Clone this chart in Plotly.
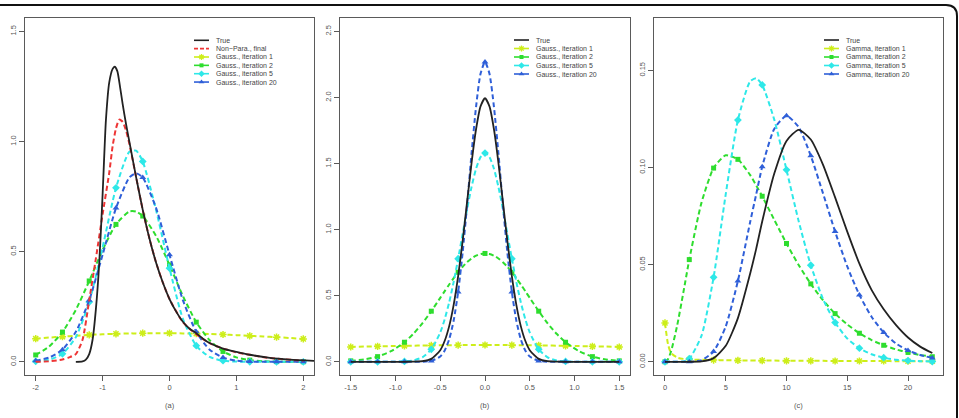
import plotly.graph_objects as go

# ---------------- data ----------------
# panel (a)
xa_true = [-1.4, -1.3, -1.25, -1.2, -1.15, -1.1, -1.05, -1.0, -0.95, -0.9, -0.85, -0.82, -0.78,
           -0.74, -0.7, -0.65, -0.6, -0.5, -0.4, -0.3, -0.2, -0.1, 0.0, 0.1, 0.2, 0.3, 0.4, 0.5,
           0.6, 0.8, 1.0, 1.2, 1.5, 1.8, 2.16]
ya_true = [0.0, 0.002, 0.01, 0.035, 0.1, 0.24, 0.45, 0.76, 1.1, 1.27, 1.33, 1.34, 1.32,
           1.25, 1.17, 1.08, 1.0, 0.84, 0.69, 0.56, 0.45, 0.36, 0.285, 0.228, 0.182, 0.15, 0.13, 0.105,
           0.085, 0.06, 0.045, 0.032, 0.018, 0.01, 0.004]
xa_np = [-2.0, -1.8, -1.6, -1.5, -1.4, -1.3, -1.2, -1.1, -1.0, -0.9, -0.85, -0.8, -0.75, -0.7,
         -0.65, -0.6, -0.5, -0.4, -0.3, -0.2, -0.1, 0.0, 0.2, 0.4, 0.6, 0.8, 1.0, 1.5, 2.0]
ya_np = [0.0, 0.002, 0.01, 0.02, 0.035, 0.1, 0.28, 0.47, 0.67, 0.86, 0.98, 1.06, 1.10, 1.09,
         1.05, 0.99, 0.84, 0.69, 0.56, 0.45, 0.36, 0.285, 0.18, 0.125, 0.085, 0.06, 0.043, 0.017, 0.005]
xa_g = [-2.0, -1.8, -1.6, -1.4, -1.2, -1.0, -0.8, -0.6, -0.5, -0.4, -0.2, 0.0, 0.2, 0.4, 0.6,
        0.8, 1.0, 1.2, 1.4, 1.6, 1.8, 2.0]
ya_it1 = [0.105, 0.11, 0.114, 0.118, 0.122, 0.125, 0.127, 0.129, 0.129, 0.13, 0.13, 0.13, 0.129,
          0.128, 0.126, 0.124, 0.121, 0.118, 0.115, 0.112, 0.108, 0.104]
ya_it2 = [0.031, 0.069, 0.135, 0.236, 0.367, 0.508, 0.624, 0.683, 0.682, 0.662, 0.571, 0.44,
          0.299, 0.18, 0.098, 0.047, 0.020, 0.0076, 0.0025, 0.0007, 0.0002, 0.0001]
ya_it5 = [0.002, 0.0094, 0.036, 0.112, 0.271, 0.52, 0.79, 0.954, 0.959, 0.91, 0.688, 0.425,
          0.195, 0.073, 0.022, 0.005, 0.001, 0.0002, 0.0, 0.0, 0.0, 0.0]
ya_it20 = [0.005, 0.019, 0.055, 0.136, 0.28, 0.486, 0.698, 0.837, 0.856, 0.837, 0.698, 0.486,
           0.28, 0.136, 0.055, 0.019, 0.005, 0.001, 0.0002, 0.0, 0.0, 0.0]
xa_marks = [-2.0, -1.6, -1.2, -0.8, -0.4, 0.0, 0.4, 0.8, 1.2, 1.6, 2.0]

# panel (b)
xb = [-1.5, -1.35, -1.2, -1.05, -0.9, -0.8, -0.7, -0.6, -0.5, -0.45, -0.4, -0.35, -0.3, -0.25,
      -0.2, -0.15, -0.1, -0.05, 0.0, 0.05, 0.1, 0.15, 0.2, 0.25, 0.3, 0.35, 0.4, 0.45, 0.5, 0.6,
      0.7, 0.8, 0.9, 1.05, 1.2, 1.35, 1.5]
yb_true = [0.0, 0.0, 0.0, 0.0, 0.0001, 0.0007, 0.0044, 0.022, 0.088, 0.159, 0.27, 0.431, 0.648,
           0.913, 1.21, 1.506, 1.76, 1.933, 1.995, 1.933, 1.76, 1.506, 1.21, 0.913, 0.648, 0.431,
           0.27, 0.159, 0.088, 0.022, 0.0044, 0.0007, 0.0001, 0.0, 0.0, 0.0, 0.0]
yb_it1 = [0.112, 0.115, 0.117, 0.119, 0.121, 0.122, 0.123, 0.124, 0.125, 0.125, 0.126, 0.126,
          0.126, 0.127, 0.127, 0.127, 0.127, 0.127, 0.127, 0.127, 0.127, 0.127, 0.127, 0.127,
          0.126, 0.126, 0.126, 0.125, 0.125, 0.124, 0.123, 0.122, 0.121, 0.119, 0.117, 0.115, 0.112]
yb_it2 = [0.007, 0.0175, 0.039, 0.08, 0.148, 0.212, 0.291, 0.383, 0.484, 0.535, 0.585, 0.633,
          0.678, 0.719, 0.754, 0.782, 0.803, 0.816, 0.82, 0.816, 0.803, 0.782, 0.754, 0.719,
          0.678, 0.633, 0.585, 0.535, 0.484, 0.383, 0.291, 0.212, 0.148, 0.08, 0.039, 0.0175, 0.007]
yb_it5 = [0.0, 0.0, 0.0, 0.0002, 0.0027, 0.0104, 0.034, 0.094, 0.222, 0.323, 0.45, 0.605, 0.78,
          0.968, 1.155, 1.324, 1.461, 1.549, 1.58, 1.549, 1.461, 1.324, 1.155, 0.968, 0.78, 0.605,
          0.45, 0.323, 0.222, 0.094, 0.034, 0.0104, 0.0027, 0.0002, 0.0, 0.0, 0.0]
yb_it20 = [0.0, 0.0, 0.0, 0.0, 0.0, 0.0001, 0.0008, 0.0067, 0.0396, 0.0855, 0.17, 0.312, 0.529,
           0.825, 1.188, 1.577, 1.93, 2.18, 2.27, 2.18, 1.93, 1.577, 1.188, 0.825, 0.529, 0.312,
           0.17, 0.0855, 0.0396, 0.0067, 0.0008, 0.0001, 0.0, 0.0, 0.0, 0.0, 0.0]
xb_marks = [-1.5, -1.2, -0.9, -0.6, -0.3, 0.0, 0.3, 0.6, 0.9, 1.2, 1.5]

# panel (c)
xc = [0, 0.25, 0.5, 1, 1.5, 2, 3, 4, 5, 6, 7, 7.5, 8, 9, 10, 11, 12, 13, 14, 15, 16, 17, 18,
      19, 20, 21, 22]
yc_true = [0.0, 0.0, 0.0, 0.0, 0.0, 0.00001, 0.0002, 0.0019, 0.0082, 0.0225, 0.0452, 0.058,
           0.0722, 0.097, 0.1137, 0.1194, 0.1144, 0.1015, 0.0846, 0.067, 0.0505, 0.037, 0.027,
           0.019, 0.0125, 0.0078, 0.0045]
yc_it1 = [0.020, 0.009, 0.0045, 0.0022, 0.0015, 0.0012, 0.001, 0.0009, 0.0008, 0.0007, 0.0007,
          0.0006, 0.0006, 0.0006, 0.0005, 0.0005, 0.0005, 0.0005, 0.0004, 0.0004, 0.0004, 0.0004,
          0.0004, 0.0003, 0.0003, 0.0003, 0.0003]
yc_it2 = [0.0, 0.0014, 0.0054, 0.0186, 0.0353, 0.0526, 0.0818, 0.0997, 0.1063, 0.1042, 0.0962,
          0.0909, 0.0852, 0.073, 0.0609, 0.0498, 0.0401, 0.0317, 0.0248, 0.0192, 0.0147, 0.0112,
          0.0085, 0.0064, 0.0048, 0.0035, 0.0026]
yc_it5 = [0.0, 0.0, 0.0, 0.00002, 0.0002, 0.0016, 0.0133, 0.0435, 0.0863, 0.1244, 0.1443, 0.146,
          0.1425, 0.1245, 0.0988, 0.0724, 0.0497, 0.0324, 0.0202, 0.012, 0.007, 0.0039, 0.0021,
          0.0011, 0.0006, 0.0003, 0.00015]
yc_it20 = [0.0, 0.0, 0.0, 0.0, 0.0, 0.00004, 0.0008, 0.0053, 0.0182, 0.0416, 0.0717, 0.086,
           0.1004, 0.12, 0.1266, 0.1208, 0.106, 0.0868, 0.067, 0.0491, 0.0344, 0.0232, 0.0151,
           0.0095, 0.0058, 0.0035, 0.002]
xc_marks = [0, 2, 4, 6, 8, 10, 12, 14, 16, 18, 20, 22]

# tick labels
xa_ticks = [-2, -1, 0, 1, 2]
xa_ticktext = ["-2", "-1", "0", "1", "2"]
ya_ticks = [0.0, 0.5, 1.0, 1.5]
ya_ticktext = ["0.0", "0.5", "1.0", "1.5"]
xb_ticks = [-1.5, -1.0, -0.5, 0.0, 0.5, 1.0, 1.5]
xb_ticktext = ["-1.5", "-1.0", "-0.5", "0.0", "0.5", "1.0", "1.5"]
yb_ticks = [0.0, 0.5, 1.0, 1.5, 2.0, 2.5]
yb_ticktext = ["0.0", "0.5", "1.0", "1.5", "2.0", "2.5"]
xc_ticks = [0, 5, 10, 15, 20]
xc_ticktext = ["0", "5", "10", "15", "20"]
yc_ticks = [0.0, 0.05, 0.10, 0.15]
yc_ticktext = ["0.00", "0.05", "0.10", "0.15"]

panel_labels = ["(a)", "(b)", "(c)"]
legend_a = ["True", "Non\u2212Para., final", "Gauss., iteration 1", "Gauss., iteration 2",
            "Gauss., iteration 5", "Gauss., iteration 20"]
legend_b = ["True", "Gauss., iteration 1", "Gauss., iteration 2", "Gauss., iteration 5",
            "Gauss., iteration 20"]
legend_c = ["True", "Gamma, iteration 1", "Gamma, iteration 2", "Gamma, iteration 5",
            "Gamma, iteration 20"]

# ---------------- styles ----------------
W, H = 959, 418
C_TRUE = "#222222"
C_NP = "#ee3535"
C1 = "#cdee1a"
C2 = "#2edd2e"
C5 = "#2ee8e8"
C20 = "#2f5fd8"
AX = "#5a5a5a"
TXT = "#555555"
FONT = "Liberation Sans, Arial, sans-serif"
DASH = "5px,3px"

SYM = {C1: ("asterisk-open", 6), C2: ("square", 5), C5: ("diamond", 6), C20: ("triangle-up", 6)}

fig = go.Figure()


def add_curve(xs, ys, color, xr, yr, dash=True, width=2.0, marks=None):
    fig.add_trace(go.Scatter(
        x=xs, y=ys, mode="lines", xaxis=xr, yaxis=yr, showlegend=False, hoverinfo="skip",
        line=dict(color=color, width=width, dash=DASH if dash else "solid",
                  shape="spline", smoothing=0.6)))
    if marks is not None:
        keyset = {round(m, 6) for m in marks}
        mx = [x for x in xs if round(x, 6) in keyset]
        my = [y for x, y in zip(xs, ys) if round(x, 6) in keyset]
        sym, size = SYM[color]
        fig.add_trace(go.Scatter(
            x=mx, y=my, mode="markers", xaxis=xr, yaxis=yr, showlegend=False, hoverinfo="skip",
            cliponaxis=False,
            marker=dict(color=color, symbol=sym, size=size,
                        line=dict(color=color, width=1.5 if "open" in sym else 0))))


# panel (a)
add_curve(xa_g, ya_it1, C1, "x", "y", marks=xa_marks)
add_curve(xa_g, ya_it2, C2, "x", "y", marks=xa_marks)
add_curve(xa_g, ya_it5, C5, "x", "y", marks=xa_marks)
add_curve(xa_g, ya_it20, C20, "x", "y", marks=xa_marks)
add_curve(xa_np, ya_np, C_NP, "x", "y")
add_curve(xa_true, ya_true, C_TRUE, "x", "y", dash=False, width=1.8)

# panel (b)
add_curve(xb, yb_it1, C1, "x2", "y2", marks=xb_marks)
add_curve(xb, yb_it2, C2, "x2", "y2", marks=xb_marks)
add_curve(xb, yb_it5, C5, "x2", "y2", marks=xb_marks)
add_curve(xb, yb_it20, C20, "x2", "y2", marks=xb_marks)
add_curve(xb, yb_true, C_TRUE, "x2", "y2", dash=False, width=1.8)

# panel (c)
add_curve(xc, yc_it1, C1, "x3", "y3", marks=xc_marks)
add_curve(xc, yc_it2, C2, "x3", "y3", marks=xc_marks)
add_curve(xc, yc_it5, C5, "x3", "y3", marks=xc_marks)
add_curve(xc, yc_it20, C20, "x3", "y3", marks=xc_marks)
add_curve(xc, yc_true, C_TRUE, "x3", "y3", dash=False, width=1.8)

# ---------------- axes ----------------
ydom = [1 - 375 / H, 1 - 18.3 / H]
xdoms = [[25 / W, 314 / W], [340 / W, 630 / W], [654.3 / W, 943 / W]]
xranges = [[-2.16, 2.16], [-1.62, 1.62], [-0.88, 22.88]]
yranges = [[-0.06, 1.56], [-0.1, 2.6], [-0.0068, 0.1768]]
xtick = [(xa_ticks, xa_ticktext), (xb_ticks, xb_ticktext), (xc_ticks, xc_ticktext)]
ytick = [(ya_ticks, ya_ticktext), (yb_ticks, yb_ticktext), (yc_ticks, yc_ticktext)]

layout = dict(
    width=W, height=H, margin=dict(l=0, r=0, t=0, b=0),
    paper_bgcolor="white", plot_bgcolor="rgba(0,0,0,0)", showlegend=False,
    font=dict(family=FONT, color=TXT, size=8),
)
for i in range(3):
    sx = "" if i == 0 else str(i + 1)
    layout["xaxis" + sx] = dict(
        domain=xdoms[i], range=xranges[i], anchor="y" + sx, showgrid=False, zeroline=False,
        showline=True, mirror=True, linecolor=AX, linewidth=1.3,
        ticks="outside", ticklen=5, tickwidth=1, tickcolor=AX,
        tickvals=xtick[i][0], ticktext=xtick[i][1], tickfont=dict(size=7.5, color=TXT),
        fixedrange=True)
    layout["yaxis" + sx] = dict(
        domain=ydom, range=yranges[i], anchor="x" + sx, showgrid=False, zeroline=False,
        showline=True, mirror=True, linecolor=AX, linewidth=1.3,
        ticks="outside", ticklen=5, tickwidth=1, tickcolor=AX, tickangle=-90,
        tickvals=ytick[i][0], ticktext=ytick[i][1], tickfont=dict(size=7.5, color=TXT),
        fixedrange=True)
# overlay pixel axes for legend symbols and frame
layout["xaxis4"] = dict(domain=[0, 1], range=[0, W], anchor="y4", visible=False, fixedrange=True)
layout["yaxis4"] = dict(domain=[0, 1], range=[H, 0], anchor="x4", visible=False, fixedrange=True)
fig.update_layout(**layout)

# ---------------- manual legends ----------------
annotations = []
shapes = []
legends = [
    (legend_a, [C_TRUE, C_NP, C1, C2, C5, C20], 194, 209, 214, 40.3, 8.35),
    (legend_b, [C_TRUE, C1, C2, C5, C20], 514, 529, 534, 40.0, 8.5),
    (legend_c, [C_TRUE, C1, C2, C5, C20], 824, 839, 844, 40.0, 8.5),
]
for labels, colors, lx0, lx1, tx, y0, dy in legends:
    mx, my, mc, ms, msz = [], [], [], [], []
    for k, (lab, col) in enumerate(zip(labels, colors)):
        yy = y0 + k * dy
        shapes.append(dict(type="line", xref="x4", yref="y4", x0=lx0, x1=lx1, y0=yy, y1=yy,
                           line=dict(color=col, width=1.6,
                                     dash="4px,2px" if col == C_NP else "solid")))
        annotations.append(dict(x=tx / W, y=1 - yy / H, xref="paper", yref="paper", text=lab,
                                showarrow=False, xanchor="left", yanchor="middle",
                                font=dict(size=7, color="#444444", family=FONT)))
        if col in SYM:
            sym, size = SYM[col]
            fig.add_trace(go.Scatter(
                x=[(lx0 + lx1) / 2], y=[yy], mode="markers", xaxis="x4", yaxis="y4",
                showlegend=False, hoverinfo="skip",
                marker=dict(color=col, symbol=sym, size=size - 1,
                            line=dict(color=col, width=1.3 if "open" in sym else 0))))

# panel captions
for i, lab in enumerate(panel_labels):
    annotations.append(dict(x=(xdoms[i][0] + xdoms[i][1]) / 2, y=1 - 405 / H, xref="paper",
                            yref="paper", text=lab, showarrow=False, xanchor="center",
                            yanchor="middle", font=dict(size=7.5, color="#555555", family=FONT)))

# outer frame with rounded top-right corner
shapes.append(dict(type="path", xref="x4", yref="y4",
                   path="M 0,5 L 946,5 Q 957,5 957,16 L 957,430",
                   line=dict(color="#111111", width=2)))

fig.update_layout(annotations=annotations, shapes=shapes)
fig.write_html("out.html")
